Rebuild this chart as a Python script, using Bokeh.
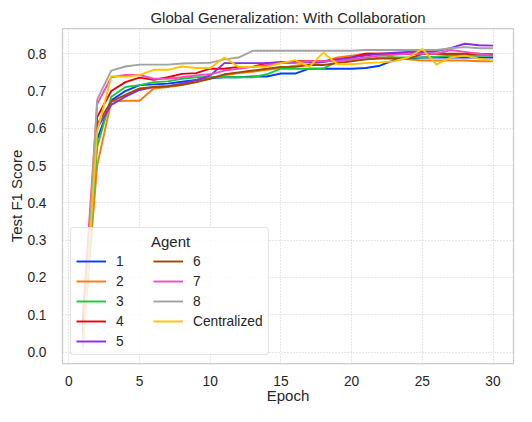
from bokeh.plotting import figure
from bokeh.models import Range1d, FixedTicker, PrintfTickFormatter, Legend, LegendItem
from bokeh.embed import file_html
from bokeh.resources import INLINE

epochs = list(range(1, 31))

agent_1 = [0.05, 0.57, 0.675, 0.70, 0.716, 0.718, 0.72, 0.725, 0.73, 0.735,
           0.737, 0.737, 0.739, 0.739, 0.747, 0.747, 0.76, 0.76, 0.76, 0.76,
           0.762, 0.768, 0.783, 0.787, 0.79, 0.79, 0.79, 0.79, 0.79, 0.79]
agent_2 = [0.03, 0.50, 0.672, 0.674, 0.674, 0.707, 0.711, 0.716, 0.724, 0.735,
           0.742, 0.748, 0.752, 0.757, 0.762, 0.768, 0.772, 0.778, 0.79, 0.795,
           0.80, 0.80, 0.79, 0.785, 0.782, 0.782, 0.782, 0.782, 0.78, 0.78]
agent_3 = [0.04, 0.55, 0.685, 0.711, 0.716, 0.724, 0.726, 0.733, 0.737, 0.737,
           0.737, 0.737, 0.737, 0.745, 0.76, 0.76, 0.76, 0.76, 0.78, 0.785,
           0.785, 0.79, 0.79, 0.79, 0.79, 0.792, 0.795, 0.795, 0.795, 0.795]
agent_4 = [0.08, 0.63, 0.70, 0.724, 0.736, 0.73, 0.737, 0.746, 0.748, 0.76,
           0.76, 0.765, 0.765, 0.775, 0.775, 0.78, 0.78, 0.78, 0.785, 0.79,
           0.80, 0.80, 0.80, 0.80, 0.80, 0.80, 0.80, 0.80, 0.80, 0.797]
agent_5 = [0.06, 0.60, 0.663, 0.685, 0.703, 0.711, 0.713, 0.72, 0.729, 0.742,
           0.775, 0.775, 0.775, 0.775, 0.778, 0.778, 0.778, 0.778, 0.785, 0.79,
           0.795, 0.80, 0.803, 0.805, 0.805, 0.807, 0.815, 0.827, 0.823, 0.822]
agent_6 = [0.07, 0.61, 0.672, 0.69, 0.707, 0.711, 0.713, 0.717, 0.724, 0.733,
           0.745, 0.75, 0.755, 0.76, 0.765, 0.765, 0.77, 0.77, 0.775, 0.78,
           0.785, 0.787, 0.787, 0.787, 0.799, 0.799, 0.799, 0.799, 0.799, 0.799]
agent_7 = [0.10, 0.665, 0.737, 0.743, 0.743, 0.733, 0.733, 0.737, 0.742, 0.745,
           0.755, 0.76, 0.765, 0.77, 0.775, 0.775, 0.78, 0.78, 0.78, 0.785,
           0.79, 0.795, 0.797, 0.80, 0.80, 0.80, 0.81, 0.805, 0.80, 0.795]
agent_8 = [0.01, 0.677, 0.755, 0.766, 0.771, 0.771, 0.771, 0.774, 0.775, 0.776,
           0.785, 0.79, 0.808, 0.808, 0.808, 0.808, 0.808, 0.808, 0.808, 0.808,
           0.81, 0.81, 0.81, 0.81, 0.81, 0.81, 0.815, 0.818, 0.815, 0.815]
centralized = [0.02, 0.59, 0.74, 0.738, 0.743, 0.757, 0.757, 0.766, 0.762, 0.762,
               0.79, 0.765, 0.765, 0.765, 0.775, 0.783, 0.765, 0.803, 0.772, 0.772,
               0.775, 0.777, 0.78, 0.79, 0.813, 0.771, 0.79, 0.795, 0.787, 0.782]

series_names = ["1", "2", "3", "4", "5", "6", "7", "8", "Centralized"]
series_values = [agent_1, agent_2, agent_3, agent_4, agent_5, agent_6, agent_7, agent_8, centralized]
colors = ["#023eff", "#ff7c00", "#1ac938", "#e8000b", "#8b2be2",
          "#9f4800", "#f14cc1", "#a3a3a3", "#ffc400"]

x_ticks = [0, 5, 10, 15, 20, 25, 30]
y_ticks = [0.0, 0.1, 0.2, 0.3, 0.4, 0.5, 0.6, 0.7, 0.8]
legend_title = "Agent"

FONT = "Liberation Sans"
TXT = "#262626"

all_vals = [v for s in series_values for v in s]
ymin, ymax = min(all_vals), max(all_vals)
yspan = ymax - ymin
xspan = max(epochs) - min(epochs)

p = figure(width=516, height=406, output_backend="svg", toolbar_location=None,
           x_range=Range1d(min(epochs) - 0.05 * xspan, max(epochs) + 0.05 * xspan),
           y_range=Range1d(ymin - 0.05 * yspan, ymax + 0.05 * yspan),
           min_border_left=62, min_border_right=3, min_border_top=28, min_border_bottom=42,
           title="Global Generalization: With Collaboration")

p.title.align = "center"
p.title.text_font = FONT
p.title.text_font_size = "15px"
p.title.text_font_style = "normal"
p.title.text_color = TXT
p.title.standoff = 5

p.outline_line_color = "#cccccc"
p.outline_line_width = 1.25
p.background_fill_color = "white"
p.border_fill_color = "white"

for ax in p.axis:
    ax.axis_line_color = None
    ax.major_tick_line_color = None
    ax.minor_tick_line_color = None
    ax.major_label_text_font = FONT
    ax.major_label_text_font_size = "13.75px"
    ax.major_label_text_color = TXT
    ax.axis_label_text_font = FONT
    ax.axis_label_text_font_size = "15px"
    ax.axis_label_text_font_style = "normal"
    ax.axis_label_text_color = TXT

p.xaxis.ticker = FixedTicker(ticks=x_ticks)
p.yaxis.ticker = FixedTicker(ticks=y_ticks)
p.yaxis.formatter = PrintfTickFormatter(format="%.1f")
p.xaxis.major_label_standoff = 6
p.xaxis.axis_label_standoff = -2
p.yaxis.major_label_standoff = 10
p.yaxis.axis_label_standoff = -1
p.xaxis.axis_label = "Epoch"
p.yaxis.axis_label = "Test F1 Score"

p.grid.grid_line_color = "#cccccc"
p.grid.grid_line_dash = "1 2"
p.grid.grid_line_width = 1

items = []
for name, vals, col in zip(series_names, series_values, colors):
    r = p.line(epochs, vals, line_color=col, line_width=1.9)
    items.append(LegendItem(label=name, renderers=[r]))

legend = Legend(items=items, location="bottom_left", ncols=2)
# non-breaking spaces push the title to the centre of the box
legend.title = "\u00a0" * 18 + legend_title
legend.title_text_font = FONT
legend.title_text_font_size = "15px"
legend.title_text_font_style = "normal"
legend.title_text_color = TXT
legend.title_standoff = 3
legend.margin = 8
legend.padding = 5
legend.spacing = 4
legend.glyph_width = 30
legend.glyph_height = 16
legend.label_height = 16
legend.label_width = 33
legend.label_standoff = 10
legend.label_text_font = FONT
legend.label_text_font_size = "13.75px"
legend.label_text_color = TXT
legend.background_fill_color = "white"
legend.background_fill_alpha = 0.8
legend.border_line_color = "#cccccc"
legend.border_line_width = 1
if "border_radius" in Legend.properties():
    legend.border_radius = 4
p.add_layout(legend)

open("out.html", "w").write(file_html(p, INLINE))
